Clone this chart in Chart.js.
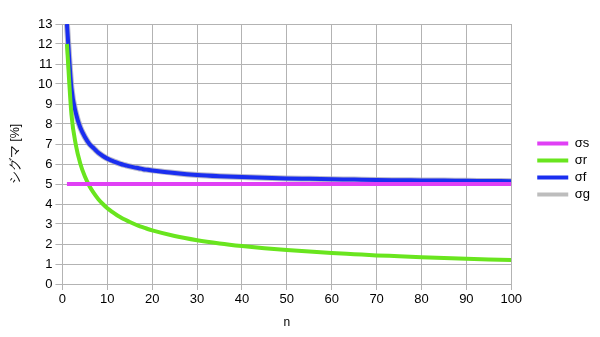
<!DOCTYPE html>
<html>
<head>
<meta charset="utf-8">
<script src="https://cdn.jsdelivr.net/npm/chart.js@4/dist/chart.umd.min.js"></script>
<style>
html,body{margin:0;padding:0;background:#fff;}
#wrap{width:600px;height:337px;}
</style>
</head>
<body>
<div id="wrap"><canvas id="c" width="600" height="337"></canvas></div>
<script>
const nValues = [1,2,3,4,5,6,7,8,9,10,11,12,13,14,15,16,17,18,19,20,25,30,35,40,45,50,55,60,65,70,75,80,85,90,95,100];
const sigmaS  = [5,5,5,5,5,5,5,5,5,5,5,5,5,5,5,5,5,5,5,5,5,5,5,5,5,5,5,5,5,5,5,5,5,5,5,5];
const sigmaR  = [12,8.49,6.93,6.0,5.37,4.9,4.54,4.24,4.0,3.79,3.62,3.46,3.33,3.21,3.1,3.0,2.91,2.83,2.75,2.68,2.4,2.19,2.03,1.9,1.79,1.7,1.62,1.55,1.49,1.43,1.39,1.34,1.3,1.26,1.23,1.2];
const sigmaF  = [13,9.8,8.53,7.81,7.35,7.0,6.78,6.56,6.4,6.27,6.17,6.08,6.0,5.94,5.88,5.83,5.79,5.74,5.71,5.68,5.55,5.45,5.39,5.35,5.31,5.28,5.26,5.24,5.22,5.2,5.19,5.18,5.17,5.16,5.15,5.14];
const sigmaG  = [13,9.8,8.53,7.81,7.35,7.0,6.78,6.56,6.4,6.27,6.17,6.08,6.0,5.94,5.88,5.83,5.79,5.74,5.71,5.68,5.55,5.45,5.39,5.35,5.31,5.28,5.26,5.24,5.22,5.2,5.19,5.18,5.17,5.16,5.15,5.14];
const seriesNames = ['σs','σr','σf','σg'];
const xTitle = 'n';
const yTitle = 'シグマ [%]';

function pts(ys){ return nValues.map((x,i)=>({x:x,y:ys[i]})); }

const font = "'Liberation Sans', Arial, sans-serif";
Chart.defaults.font.family = font;
Chart.defaults.color = '#000';

const LEGEND_GAP = 22;
const LEGEND_RAISE = 10;
const legendGapPlugin = {
  id:'legendGap',
  beforeUpdate(chart){
    const lg = chart.legend;
    if (lg && !lg._gapPatched){
      const orig = lg.fit;
      lg.fit = function(){ orig.call(this); this.width += LEGEND_GAP; };
      lg._gapPatched = true;
    }
  },
  afterLayout(chart){
    const lg = chart.legend;
    if (lg){ lg.left += LEGEND_GAP; lg.top -= LEGEND_RAISE; lg.bottom -= LEGEND_RAISE; }
  }
};

new Chart(document.getElementById('c'), {
  type: 'line',
  data: {
    datasets: [
      {label: seriesNames[0], data: pts(sigmaS), borderColor:'#e040f5', backgroundColor:'#e040f5', borderWidth:4},
      {label: seriesNames[1], data: pts(sigmaR), borderColor:'#69e51e', backgroundColor:'#69e51e', borderWidth:4, cubicInterpolationMode:'monotone'},
      {label: seriesNames[2], data: pts(sigmaF), borderColor:'#1a2ef0', backgroundColor:'#1a2ef0', borderWidth:4, cubicInterpolationMode:'monotone'},
      {label: seriesNames[3], data: pts(sigmaG), borderColor:'rgba(160,160,185,0.75)', backgroundColor:'#bdbdbd', borderWidth:6, cubicInterpolationMode:'monotone'}
    ]
  },
  plugins:[legendGapPlugin],
  options: {
    responsive:false,
    animation:false,
    elements:{point:{radius:0}},
    layout:{padding:{left:4,right:0,top:24,bottom:3}},
    plugins:{
      legend:{
        position:'right',
        align:'center',
        labels:{
          boxWidth:31, boxHeight:4, padding:4,
          font:{size:13, family:font},
          color:'#000',
          generateLabels(chart){
            return chart.data.datasets.map((d,i)=>({
              text:d.label, fillStyle:d.backgroundColor, strokeStyle:d.backgroundColor,
              lineWidth:0, hidden:false, datasetIndex:i, fontColor:'#000'
            }));
          }
        }
      },
      tooltip:{enabled:false}
    },
    scales:{
      x:{
        type:'linear', min:0, max:100,
        ticks:{stepSize:10, font:{size:13}, color:'#000', padding:2},
        grid:{color:'#b3b3b3', lineWidth:1, tickLength:6},
        border:{color:'#b3b3b3'},
        title:{display:true, text:xTitle, font:{size:12}, color:'#000', padding:{top:6}}
      },
      y:{
        min:0, max:13,
        ticks:{stepSize:1, font:{size:13}, color:'#000', padding:3},
        grid:{color:'#b3b3b3', lineWidth:1, tickLength:7},
        border:{color:'#b3b3b3'},
        title:{display:true, text:yTitle, font:{size:12.5}, color:'#000', padding:{top:4,bottom:12}}
      }
    }
  }
});
</script>
</body>
</html>
